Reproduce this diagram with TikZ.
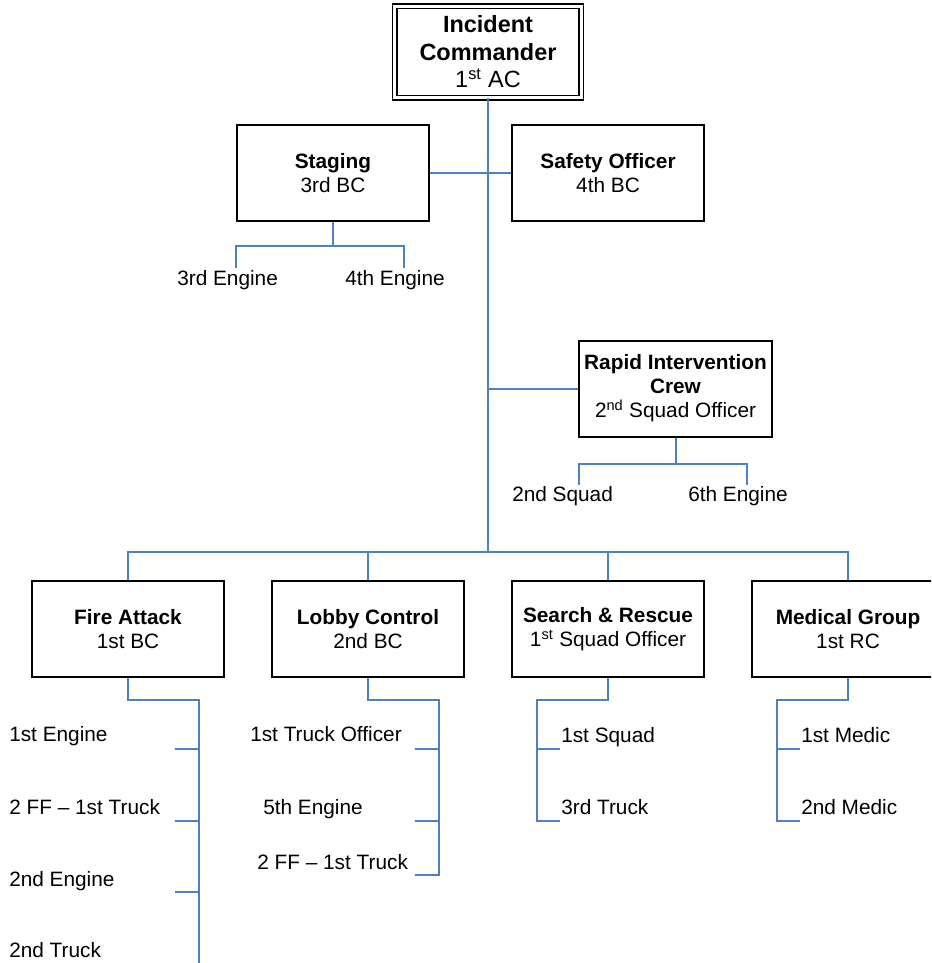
\documentclass[tikz,border=0pt]{standalone}
\usepackage{fontspec}
\setmainfont{Liberation Sans}
\usetikzlibrary{positioning}
\definecolor{chartblue}{RGB}{79,129,189}

\begin{document}
\begin{tikzpicture}[x=0.75pt, y=-0.75pt,
    post/.style={rectangle, draw=black, line width=1.5pt, fill=white, align=center,
                 minimum width=144pt, minimum height=72pt, inner sep=1pt,
                 font=\fontsize{15.6}{18}\selectfont},
    chief/.style={post, double, double distance=2.5pt, line width=1pt,
                  minimum width=140pt, minimum height=68.6pt,
                  font=\fontsize{17.6}{20.6}\selectfont},
    crew/.style={anchor=base west, inner sep=0pt, font=\fontsize{15.6}{18}\selectfont},
    link/.style={draw=chartblue, line width=1.5pt}
]
    \useasboundingbox (0,0) rectangle (931,963);
    \clip (0,0) rectangle (931,963);

    % Command and staff
    \node[chief] (ic) at (488,52) {\textbf{Incident}\\\textbf{Commander}\\1\textsuperscript{st} AC};
    \node[post] (staging) at (333,173) {\textbf{Staging}\\3rd BC};
    \node[post] (safety) at (608,173) {\textbf{Safety Officer}\\4th BC};
    \node[post, inner xsep=0pt, minimum width=144.75pt] (ric) at (675.5,388.5)
        {\textbf{Rapid Intervention}\\\textbf{Crew}\\2\textsuperscript{nd} Squad Officer};

    % Groups
    \node[post] (fire) at (128,629) {\textbf{Fire Attack}\\1st BC};
    \node[post] (lobby) at (368,629) {\textbf{Lobby Control}\\2nd BC};
    \node[post] (search) at (608,629) {\textbf{Search \& Rescue}\\1\textsuperscript{st} Squad Officer};
    \node[post] (medical) at (848,629) {\textbf{Medical Group}\\1st RC};

    % Units
    \node[crew] (e3) at (177,285) {3rd Engine};
    \node[crew] (e4) at (345,285) {4th Engine};
    \node[crew] (sq2) at (512,501.7) {2nd Squad};
    \node[crew] (e6) at (688,501.7) {6th Engine};

    \node[crew] (e1) at (9,741.7) {1st Engine};
    \node[crew] (ff1) at (9,814) {2 FF – 1st Truck};
    \node[crew] (e2) at (9,886) {2nd Engine};
    \node[crew] (t2) at (9,957) {2nd Truck};

    \node[crew] (to1) at (250,741.7) {1st Truck Officer};
    \node[crew] (e5) at (263,814) {5th Engine};
    \node[crew] (ff2) at (257,869) {2 FF – 1st Truck};

    \node[crew] (sq1) at (561,742) {1st Squad};
    \node[crew] (t3) at (561,814) {3rd Truck};

    \node[crew] (m1) at (801,742) {1st Medic};
    \node[crew] (m2) at (801,814) {2nd Medic};

    % Connections
    \coordinate (bus) at (488,552);
    \draw[link] (ic.south) -- (bus);
    \draw[link] (staging.east) -- (safety.west);
    \draw[link] (ric.west) -- (ric.west -| bus);
    \draw[link] (fire.north) |- (bus) -| (medical.north);
    \draw[link] (lobby.north) -- (lobby.north |- bus);
    \draw[link] (search.north) -- (search.north |- bus);

    \coordinate (e3t) at (236,268);
    \coordinate (e4t) at (404,268);
    \draw[link] (staging.south) -- ++(0,24) coordinate (stgJ);
    \draw[link] (e3t) |- (stgJ) -| (e4t);

    \coordinate (sq2t) at (579,485);
    \coordinate (e6t) at (747,485);
    \draw[link] (ric.south) -- ++(0,26) coordinate (ricJ);
    \draw[link] (sq2t) |- (ricJ) -| (e6t);

    \coordinate (faEnd) at (199,966);
    \draw[link] (fire.south) -- ++(0,22) -| (faEnd);
    \foreach \y in {749,821,892}
        \draw[link] (175,\y) -- (faEnd |- 0,\y);

    \coordinate (lcEnd) at (439,875);
    \draw[link] (lobby.south) -- ++(0,22) -| (lcEnd) -- ++(-24,0);
    \foreach \y in {749,821}
        \draw[link] (415,\y) -- (lcEnd |- 0,\y);

    \coordinate (srEnd) at (537,821);
    \draw[link] (search.south) -- ++(0,22) -| (srEnd) -- ++(23,0);
    \draw[link] (560,749) -- (srEnd |- 0,749);

    \coordinate (mgEnd) at (777,821);
    \draw[link] (medical.south) -- ++(0,22) -| (mgEnd) -- ++(23,0);
    \draw[link] (800,749) -- (mgEnd |- 0,749);
\end{tikzpicture}
\end{document}
